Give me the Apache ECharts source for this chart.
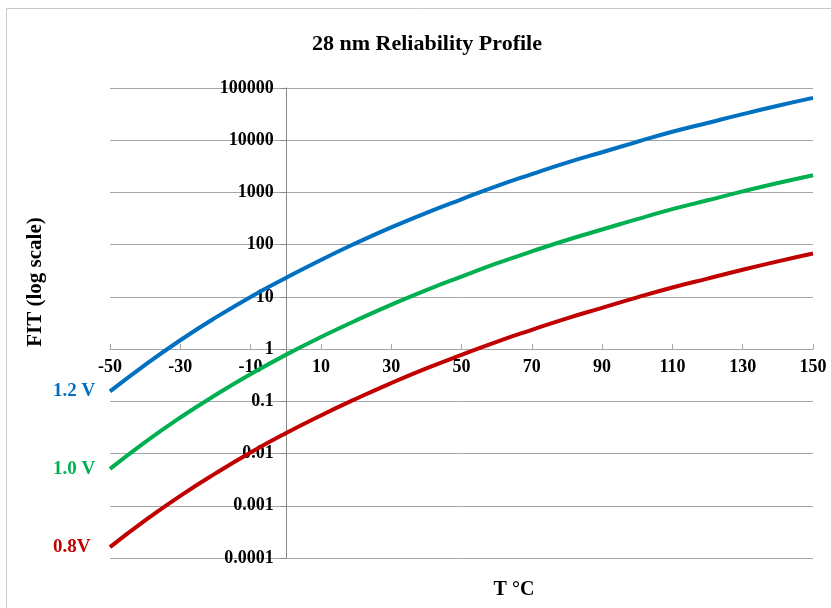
<!DOCTYPE html>
<html lang="en">
<head>
    <meta charset="utf-8" />
    <title>28 nm Reliability Profile</title>
    <script src="https://cdn.jsdelivr.net/npm/echarts@6/dist/echarts.min.js"></script>
    <style>
        html, body { margin: 0; padding: 0; background: #fff; }
        #chart { width: 831px; height: 608px; }
    </style>
</head>
<body>
    <div id="chart"></div>
    <script>
        // temperatures (°C), read every 10 degrees
        var temps = [-50, -40, -30, -20, -10, 0, 10, 20, 30, 40, 50, 60, 70, 80, 90, 100, 110, 120, 130, 140, 150];
        // FIT values
        var fit12 = [0.155, 0.50, 1.48, 4.0, 10, 23, 51, 107, 214, 407, 740, 1320, 2240, 3720, 5890, 9330, 14500, 21400, 31600, 45700, 64600];
        var fit10 = [0.0051, 0.0166, 0.049, 0.132, 0.331, 0.776, 1.70, 3.55, 7.08, 13.5, 24.5, 43.7, 74.1, 123, 195, 309, 479, 708, 1047, 1514, 2138];
        var fit08 = [0.000162, 0.000525, 0.00155, 0.00417, 0.0105, 0.0245, 0.0537, 0.112, 0.224, 0.427, 0.776, 1.38, 2.34, 3.89, 6.17, 9.77, 15.1, 22.4, 33.1, 47.9, 67.6];
        var seriesNames = ['1.2 V', '1.0 V', '0.8V'];
        var yTickLabels = ['0.0001', '0.001', '0.01', '0.1', '1', '10', '100', '1000', '10000', '100000'];

        var font = 'Liberation Serif';
        var colors = ['#0070C0', '#00B050', '#C00000'];
        var gridLeft = 110, gridRight = 18, gridTop = 88, gridBottom = 50;
        var gridWidth = 831 - gridLeft - gridRight;
        var gridHeight = 608 - gridTop - gridBottom;

        // only the first point carries the series name, left-aligned in the margin
        function makeData(vals, name, color) {
            return vals.map(function (v, i) {
                var item = { value: [temps[i], v] };
                if (i === 0) {
                    item.label = {
                        show: true, position: 'left', distance: 57, align: 'left',
                        formatter: name, color: color,
                        fontFamily: font, fontWeight: 'bold', fontSize: 19
                    };
                }
                return item;
            });
        }

        function makeSeries(k, vals) {
            return {
                name: seriesNames[k], type: 'line', smooth: true,
                showSymbol: true, symbol: 'circle', symbolSize: 0,
                data: makeData(vals, seriesNames[k], colors[k]),
                lineStyle: { color: colors[k], width: 4 },
                itemStyle: { color: colors[k] }
            };
        }

        var myChart = echarts.init(document.getElementById('chart'));
        var option = {
            animation: false,
            backgroundColor: '#fff',
            grid: { left: gridLeft, right: gridRight, top: gridTop, bottom: gridBottom },
            graphic: [
                {
                    type: 'rect', shape: { x: 6.5, y: 8.5, width: 840, height: 620 },
                    style: { fill: 'none', stroke: '#c8c8c8', lineWidth: 1 }, silent: true
                },
                {
                    type: 'text', x: 427, y: 44,
                    style: { text: '28 nm Reliability Profile', fontFamily: font, fontWeight: 'bold', fontSize: 22, fill: '#000', align: 'center', verticalAlign: 'middle' }
                },
                {
                    type: 'text', x: 36, y: 282, rotation: Math.PI / 2,
                    style: { text: 'FIT (log scale)', fontFamily: font, fontWeight: 'bold', fontSize: 21, fill: '#000', align: 'center', verticalAlign: 'middle' }
                },
                {
                    type: 'text', x: 514, y: 590,
                    style: { text: 'T °C', fontFamily: font, fontWeight: 'bold', fontSize: 20, fill: '#000', align: 'center', verticalAlign: 'middle' }
                }
            ],
            xAxis: {
                type: 'value', min: -50, max: 150, interval: 20,
                // axis sits on FIT = 1 (4 of 9 decades above the bottom)
                offset: -gridHeight * 4 / 9,
                axisLine: { onZero: false, lineStyle: { color: '#a6a6a6', width: 1 } },
                axisTick: { inside: true, length: 5, lineStyle: { color: '#a6a6a6' } },
                axisLabel: { margin: 9, color: '#000', fontFamily: font, fontWeight: 'bold', fontSize: 18 },
                splitLine: { show: false }
            },
            yAxis: {
                type: 'log', logBase: 10, min: 0.0001, max: 100000,
                // axis sits on T = 0 (50 of 200 degrees from the left)
                offset: -gridWidth * 50 / 200,
                axisLine: { show: true, onZero: false, lineStyle: { color: '#868686', width: 1 } },
                axisTick: { show: true, length: 5, lineStyle: { color: '#868686' } },
                axisLabel: {
                    margin: 12, color: '#000', fontFamily: font, fontWeight: 'bold', fontSize: 18,
                    formatter: function (v) { return yTickLabels[Math.round(Math.log10(v)) + 4]; }
                },
                splitLine: { show: true, lineStyle: { color: '#a6a6a6', width: 1 } },
                minorTick: { show: false }
            },
            series: [
                makeSeries(0, fit12),
                makeSeries(1, fit10),
                makeSeries(2, fit08)
            ]
        };
        myChart.setOption(option);
    </script>
</body>
</html>
